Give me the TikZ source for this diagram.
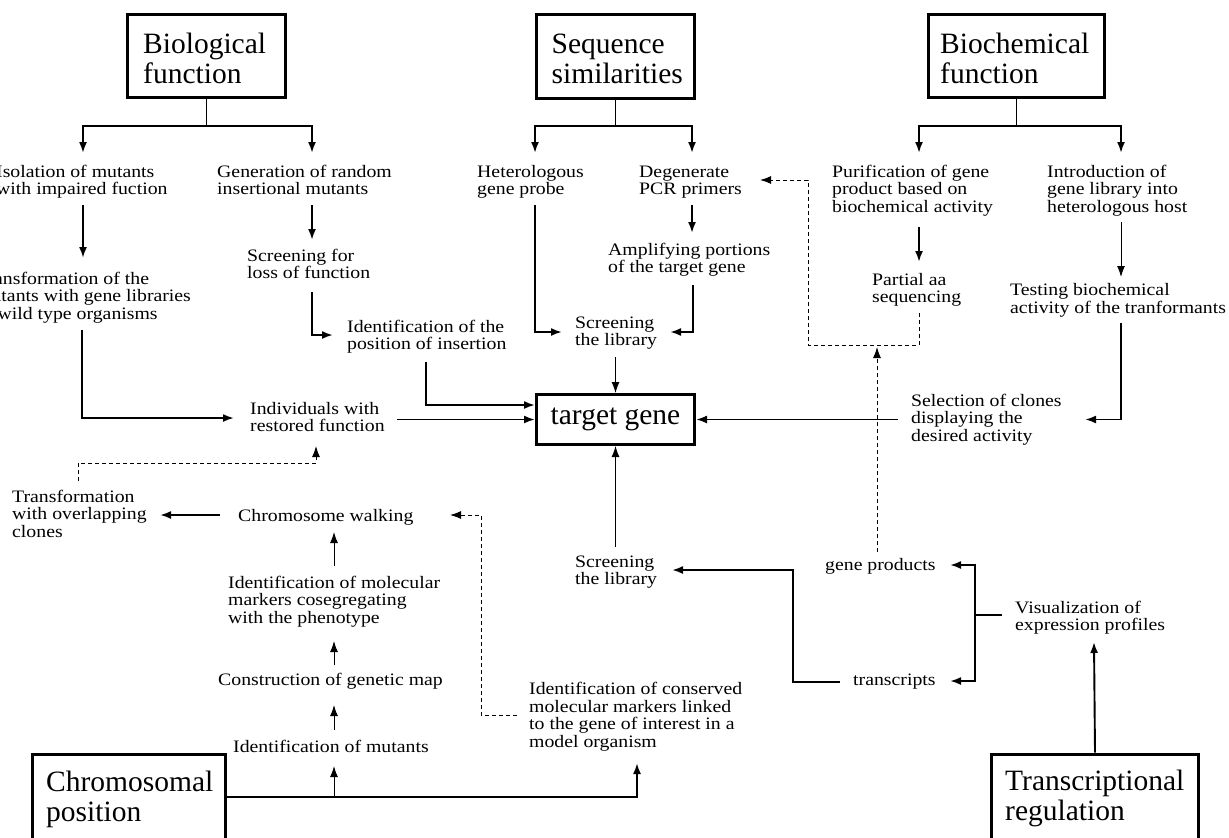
\documentclass[tikz,border=0pt]{standalone}
\usepackage{fontspec}
\setmainfont{Liberation Serif}
\newfontfamily\smfont{Liberation Serif}[FakeStretch=1.13]
\usetikzlibrary{arrows.meta}
\begin{document}
\begin{tikzpicture}[x=1pt,y=-1pt,
  txt/.style={font=\smfont\fontsize{17.5}{17.5}\selectfont, align=left, anchor=base west, inner sep=0pt},
  head/.style={font=\fontsize{29.5}{30}\selectfont, align=left, anchor=base west, inner sep=0pt},
  hbox/.style={draw, line width=3pt, inner sep=0pt},
  con/.style={line width=1.9pt},
  thn/.style={line width=1pt},
  arr/.style={-{Latex[length=11pt,width=8pt]}},
  dsh/.style={line width=1pt, dash pattern=on 4pt off 3pt},
]
\useasboundingbox (0,0) rectangle (1229,838);
\clip (0,0) rectangle (1229,838);

% heading boxes (text nodes are anchored at the baseline of their last line)
\node[hbox, minimum width=158pt, minimum height=83pt] (bio) at (206.5,56) {};
\node[head] (biot) at (143,83) {Biological\\function};
\node[hbox, minimum width=158pt, minimum height=84pt] (seq) at (615.5,56.5) {};
\node[head] (seqt) at (551.5,83) {Sequence\\similarities};
\node[hbox, minimum width=176pt, minimum height=83pt] (bch) at (1016.5,56) {};
\node[head] (bcht) at (940,83) {Biochemical\\function};
\node[hbox, minimum width=193pt, minimum height=86pt] (chr) at (129,797) {};
\node[head] (chrt) at (46,821) {Chromosomal\\position};
\node[hbox, minimum width=207pt, minimum height=86pt] (trr) at (1095,797) {};
\node[head] (trrt) at (1005,820) {Transcriptional\\regulation};
\node[hbox, minimum width=158pt, minimum height=50pt, font=\fontsize{29.5}{30}\selectfont] (tg) at (615.5,419.5) {target gene};

% text nodes
\node[txt] (iso) at (-4,194.5) {Isolation of mutants\\with impaired fuction};
\node[txt] (gen) at (217,194.5) {Generation of random\\insertional mutants};
\node[txt] (het) at (477,194.5) {Heterologous\\gene probe};
\node[txt] (deg) at (639,194.5) {Degenerate\\PCR primers};
\node[txt] (pur) at (832,212) {Purification of gene\\product based on\\biochemical activity};
\node[txt] (itr) at (1047,212) {Introduction of\\gene library into\\heterologous host};
\node[txt] (amp) at (608,272.5) {Amplifying portions\\of the target gene};
\node[txt] (scr) at (247,278.5) {Screening for\\loss of function};
\node[txt] (trf) at (-24,319) {Transformation of the\\mutants with gene libraries\\of wild type organisms};
\node[txt] (par) at (872,302.5) {Partial aa\\sequencing};
\node[txt] (tes) at (1010,313) {Testing biochemical\\activity of the tranformants};
\node[txt] (idp) at (347,349.5) {Identification of the\\position of insertion};
\node[txt] (sla) at (575,345.5) {Screening\\the library};
\node[txt] (ind) at (250,431.5) {Individuals with\\restored function};
\node[txt] (sel) at (911,441) {Selection of clones\\displaying the\\desired activity};
\node[txt] (tov) at (12,537) {Transformation\\with overlapping\\clones};
\node[txt] (chw) at (238,521) {Chromosome walking};
\node[txt] (slb) at (575,584.5) {Screening\\the library};
\node[txt] (gp) at (825,570) {gene products};
\node[txt] (mol) at (228,623) {Identification of molecular\\markers cosegregating\\with the phenotype};
\node[txt] (vis) at (1015,630.5) {Visualization of\\expression profiles};
\node[txt] (cgm) at (218,685) {Construction of genetic map};
\node[txt] (trs) at (853,685) {transcripts};
\node[txt] (cns) at (529,747) {Identification of conserved\\molecular markers linked\\to the gene of interest in a\\model organism};
\node[txt] (idm) at (233,752) {Identification of mutants};

% connector points
\coordinate (bioJ) at (206.5,126);
\coordinate (isoIn) at (83,153);
\coordinate (genIn) at (312,153);
\coordinate (isoOut) at (83,205);
\coordinate (trfIn) at (83,258);
\coordinate (genOut) at (312,205);
\coordinate (scrIn) at (312,240);
\coordinate (scrOut) at (312,292);
\coordinate (idpIn) at (333,335);
\coordinate (trfOut) at (82,330);
\coordinate (indIn) at (234,418);
\coordinate (indOut) at (397,419.5);
\coordinate (idpOut) at (426,362);
\coordinate (seqJ) at (615.5,126);
\coordinate (hetIn) at (535,153);
\coordinate (degIn) at (692,153);
\coordinate (hetOut) at (535,205);
\coordinate (slaInL) at (562,332);
\coordinate (degOut) at (692,205);
\coordinate (ampIn) at (692,233);
\coordinate (ampOut) at (693,285);
\coordinate (slaInR) at (670,332);
\coordinate (slaOut) at (615.5,357);
\coordinate (bchJ) at (1016.5,126);
\coordinate (purIn) at (919,153);
\coordinate (itrIn) at (1121,153);
\coordinate (purOut) at (919,227);
\coordinate (parIn) at (919,262);
\coordinate (itrOut) at (1121,222);
\coordinate (tesIn) at (1121,277);
\coordinate (tesOut) at (1121,323);
\coordinate (selIn) at (1085,419.5);
\coordinate (selOut) at (898,419.5);
\coordinate (parOut) at (919,313);
\coordinate (degInR) at (760,180);
\coordinate (gpOut) at (877,552);
\coordinate (parLine) at (877,347);
\coordinate (tovOut) at (78,481);
\coordinate (indInB) at (316,446);
\coordinate (chwOut) at (220,515);
\coordinate (tovIn) at (160,515);
\coordinate (molOut) at (334,566);
\coordinate (chwIn) at (334,532);
\coordinate (cgmOut) at (334,665);
\coordinate (molIn) at (334,641);
\coordinate (idmOut) at (334,730);
\coordinate (cgmIn) at (334,705);
\coordinate (chrJ) at (334,797);
\coordinate (idmIn) at (334,766);
\coordinate (cnsIn) at (637,763);
\coordinate (cnsOut) at (517,715);
\coordinate (chwInR) at (450,515);
\coordinate (slbOut) at (615.5,547);
\coordinate (trsOut) at (840,682);
\coordinate (slbIn) at (672,570);
\coordinate (visOut) at (1002,615);
\coordinate (visJ) at (975,615);
\coordinate (gpIn) at (950,565);
\coordinate (trsIn) at (950,681);
\coordinate (visIn) at (1094,642);

% Biological function branch
\draw[thn] (bio.south) -- (bioJ);
\draw[con,arr] (bioJ) -| (isoIn);
\draw[con,arr] (bioJ) -| (genIn);
\draw[con,arr] (isoOut) -- (trfIn);
\draw[con,arr] (genOut) -- (scrIn);
\draw[con,arr] (scrOut) |- (idpIn);
\draw[con,arr] (trfOut) |- (indIn);
\draw[con,arr] (indOut) -- (tg.west);
\draw[con,arr] (idpOut) |- ([yshift=14.5pt]tg.west);

% Sequence similarities branch
\draw[con] (seq.south) -- (seqJ);
\draw[con,arr] (seqJ) -| (hetIn);
\draw[con,arr] (seqJ) -| (degIn);
\draw[con,arr] (hetOut) |- (slaInL);
\draw[con,arr] (degOut) -- (ampIn);
\draw[con,arr] (ampOut) |- (slaInR);
\draw[thn,arr] (slaOut) -- (tg.north);

% Biochemical function branch
\draw[con] (bch.south) -- (bchJ);
\draw[con,arr] (bchJ) -| (purIn);
\draw[con,arr] (bchJ) -| (itrIn);
\draw[con,arr] (purOut) -- (parIn);
\draw[thn,arr] (itrOut) -- (tesIn);
\draw[con,arr] (tesOut) |- (selIn);
\draw[con,arr] (selOut) -- (tg.east);

% dashed feedbacks
\draw[dsh,arr] (parOut) -- (919,345) -- (808,345) -- (808,180) -- (degInR);
\draw[dsh,arr] (gpOut) -- (parLine);
\draw[dsh,arr] (tovOut) -- (78,463) -- (316,463) -- (indInB);
\draw[dsh,arr] (cnsOut) -- (481,715) -- (481,515) -- (chwInR);

% Chromosomal position branch
\draw[con,arr] (chwOut) -- (tovIn);
\draw[thn,arr] (molOut) -- (chwIn);
\draw[thn,arr] (cgmOut) -- (molIn);
\draw[thn,arr] (idmOut) -- (cgmIn);
\draw[con,arr] (chr.east) -| (cnsIn);
\draw[thn,arr] (chrJ) -- (idmIn);

% Transcriptional regulation branch
\draw[thn,arr] (slbOut) -- (tg.south);
\draw[con,arr] (trsOut) -- (793,682) -- (793,570) -- (slbIn);
\draw[con] (visOut) -- (visJ);
\draw[con,arr] (visJ) |- (gpIn);
\draw[con,arr] (visJ) |- (trsIn);
\draw[con,arr] (trr.north) -- (visIn);
\end{tikzpicture}
\end{document}
